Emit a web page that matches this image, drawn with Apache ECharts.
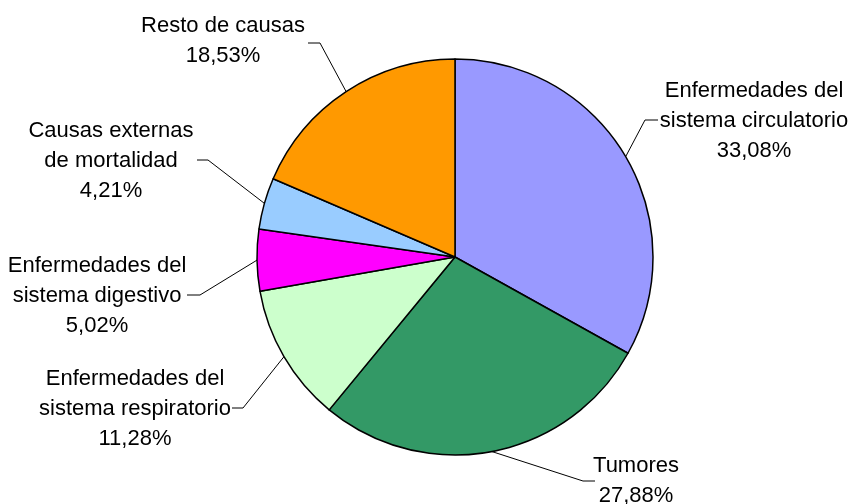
<!DOCTYPE html>
<html>
<head>
<meta charset="utf-8">
<script src="https://cdn.jsdelivr.net/npm/echarts@6/dist/echarts.min.js"></script>
<style>
  html, body { margin: 0; padding: 0; background: #fff; }
  #chart { width: 851px; height: 504px; }
</style>
</head>
<body>
<div id="chart"></div>
<script>
// causas de mortalidad (%)
const causas = [
  'Enfermedades del\nsistema circulatorio',
  'Tumores',
  'Enfermedades del\nsistema respiratorio',
  'Enfermedades del\nsistema digestivo',
  'Causas externas\nde mortalidad',
  'Resto de causas'
]
const porcentajes = [33.08, 27.88, 11.28, 5.02, 4.21, 18.53]
const colores = ['#9999FF', '#339966', '#CCFFCC', '#FF00FF', '#99CCFF', '#FF9900']

// where each label sits: text centre, elbow of the leader line, end of leader line
const labelSpots = [
  { text: [754, 121], bend: [645, 120], end: [658, 120] },
  { text: [636, 481], bend: [583, 481], end: [595, 481] },
  { text: [135, 409], bend: [243, 408], end: [232, 408] },
  { text: [97, 296], bend: [200, 295], end: [187, 295] },
  { text: [111, 161], bend: [208, 160], end: [197, 160] },
  { text: [223, 41], bend: [320, 43], end: [308, 43] }
]

const myChart = echarts.init(document.getElementById('chart'))
const options = {
  animation: false,
  backgroundColor: '#fff',
  series: [
    {
      type: 'pie',
      center: [455, 257],
      radius: 198,
      startAngle: 90,
      clockwise: true,
      avoidLabelOverlap: false,
      emphasis: { disabled: true },
      itemStyle: {
        borderColor: '#000',
        borderWidth: 1.5
      },
      label: {
        show: true,
        position: 'outside',
        color: '#000',
        fontFamily: 'Liberation Sans, Arial, sans-serif',
        fontSize: 22,
        lineHeight: 30,
        formatter: function(p) {
          return p.name + '\n' + p.value.toFixed(2).replace('.', ',') + '%'
        }
      },
      labelLine: {
        show: true,
        lineStyle: { color: '#000', width: 1 }
      },
      labelLayout: function(params) {
        const spot = labelSpots[params.dataIndex]
        const start = params.labelLinePoints ? params.labelLinePoints[0] : spot.bend
        return {
          x: spot.text[0],
          y: spot.text[1],
          align: 'center',
          verticalAlign: 'middle',
          labelLinePoints: [start, spot.bend, spot.end]
        }
      },
      data: causas.map(function(name, i) {
        return { name: name, value: porcentajes[i], itemStyle: { color: colores[i] } }
      })
    }
  ]
}
myChart.setOption(options)
</script>
</body>
</html>
